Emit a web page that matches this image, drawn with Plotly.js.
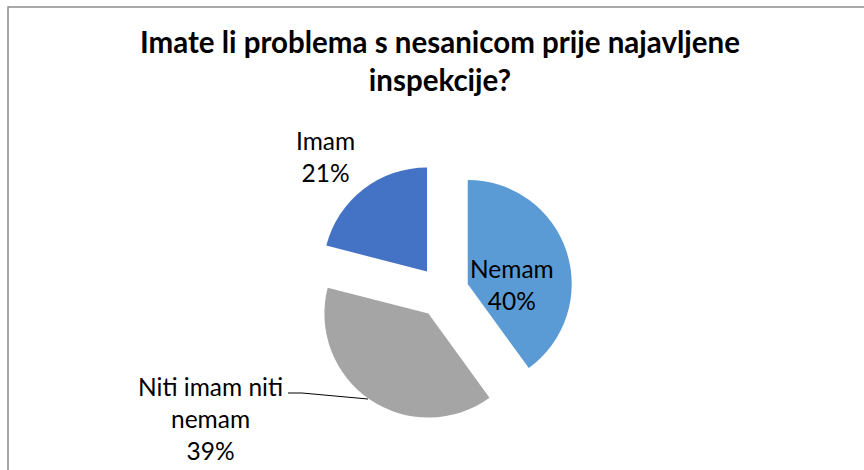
<!DOCTYPE html>
<html>
<head>
<meta charset="utf-8">
<script src="https://cdn.plot.ly/plotly-3.0.1.min.js"></script>
<style>html,body{margin:0;padding:0;background:#fff;}#chart{width:864px;height:470px;}</style>
</head>
<body>
<div id="chart"></div>
<script>
const categories = ['Nemam', 'Niti imam niti nemam', 'Imam'];
const labelLines = ['Nemam', 'Niti imam niti<br>nemam', 'Imam'];
const percents = [40, 39, 21];
const colors = ['#5B9BD5', '#A5A5A5', '#4472C4'];
const titleText = 'Imate li problema s nesanicom prije najavljene<br>inspekcije?';

const W = 864, H = 470;
const px = x => x / W;
const py = y => 1 - y / H;

const labelPos = [[512, 284], [210, 418], [325, 156]];

const annotations = categories.map((c, i) => ({
  xref: 'paper', yref: 'paper',
  x: px(labelPos[i][0]), y: py(labelPos[i][1]),
  xanchor: 'center', yanchor: 'middle',
  text: labelLines[i] + '<br>' + percents[i] + '%',
  showarrow: false,
  font: {family: 'Lato, sans-serif', size: 24.5, color: '#000'}
}));

const data = [{
  type: 'pie',
  labels: categories,
  values: percents,
  sort: false,
  direction: 'clockwise',
  rotation: 0,
  pull: [0.25, 0.25, 0.25],
  marker: {colors: colors, line: {width: 0}},
  textinfo: 'none',
  hoverinfo: 'label+percent',
  showlegend: false,
  domain: {x: [px(313), px(573)], y: [py(422), py(162)]}
}];

const layout = {
  width: W, height: H,
  margin: {l: 0, r: 0, t: 0, b: 0},
  paper_bgcolor: '#fff',
  showlegend: false,
  title: {
    text: titleText,
    x: 440 / W, xref: 'container', xanchor: 'center',
    y: 1 - 53 / H, yref: 'container', yanchor: 'middle',
    font: {family: 'Lato, sans-serif', size: 29.5, color: '#000', weight: 'bold'}
  },
  annotations: annotations,
  shapes: [
    {type: 'rect', xref: 'paper', yref: 'paper', x0: px(8), x1: 1.05, y0: -0.05, y1: py(7),
     line: {color: '#8C8C8C', width: 1.5}, fillcolor: 'rgba(0,0,0,0)'},
    {type: 'path', xref: 'paper', yref: 'paper',
     path: 'M ' + px(288) + ',' + py(393) + ' L ' + px(302) + ',' + py(393) + ' L ' + px(368) + ',' + py(399),
     line: {color: '#000', width: 1}}
  ]
};

Plotly.newPlot('chart', data, layout, {staticPlot: true});
</script>
</body>
</html>
